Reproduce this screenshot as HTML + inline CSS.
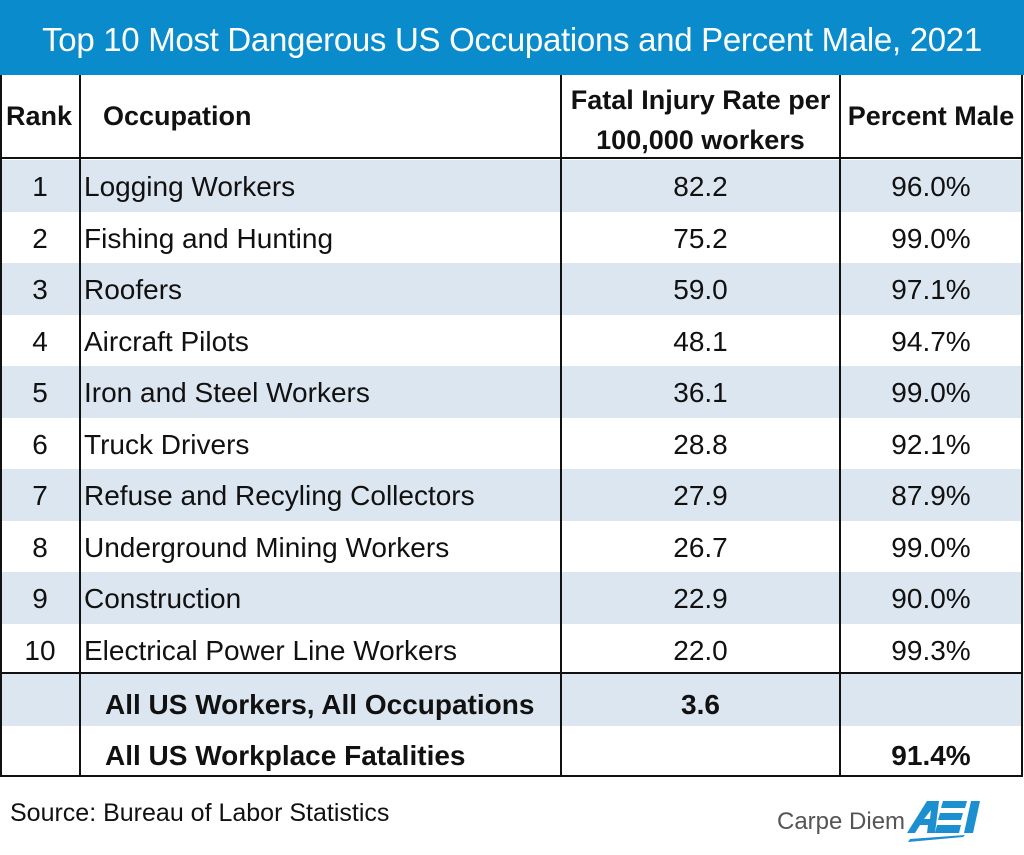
<!DOCTYPE html>
<html><head><meta charset="utf-8"><style>
*{margin:0;padding:0;box-sizing:border-box}
body{width:1024px;height:855px;background:#fff;font-family:"Liberation Sans",sans-serif;position:relative;overflow:hidden;color:#111}
.a{position:absolute}
.t{position:absolute;left:0;top:0;width:1024px;height:75px;background:#0a8ccc;color:#fff;font-size:33px;text-align:center;line-height:80px;letter-spacing:-0.3px}
.row{position:absolute;left:0;width:1022px;height:51.5px;font-size:28px;line-height:54px}
.b{background:#dce6f0}
.c{position:absolute;top:0;height:100%;white-space:nowrap}
.r{left:0;width:80px;text-align:center}
.o{left:84px}
.f{left:561px;width:279px;text-align:center}
.p{left:840px;width:182px;text-align:center}
.hl{position:absolute;left:0;width:1022px;height:2px;background:#111}
.vl{position:absolute;width:2px;background:#111}
.bold{font-weight:bold}
</style></head><body>
<div class="t">Top 10 Most Dangerous US Occupations and Percent Male, 2021</div>
<div class="a bold" style="left:6px;top:101px;font-size:27px">Rank</div>
<div class="a bold" style="left:103px;top:101px;font-size:27px">Occupation</div>
<div class="a bold" style="left:561px;top:80px;width:279px;text-align:center;font-size:27px;line-height:40px;white-space:nowrap">Fatal Injury Rate per<br>100,000 workers</div>
<div class="a bold" style="left:840px;top:101px;width:182px;text-align:center;font-size:27px;white-space:nowrap">Percent Male</div>

<div class="row b" style="top:160px"><div class="c r">1</div><div class="c o">Logging Workers</div><div class="c f">82.2</div><div class="c p">96.0%</div></div>
<div class="row" style="top:211.5px"><div class="c r">2</div><div class="c o">Fishing and Hunting</div><div class="c f">75.2</div><div class="c p">99.0%</div></div>
<div class="row b" style="top:263px"><div class="c r">3</div><div class="c o">Roofers</div><div class="c f">59.0</div><div class="c p">97.1%</div></div>
<div class="row" style="top:314.5px"><div class="c r">4</div><div class="c o">Aircraft Pilots</div><div class="c f">48.1</div><div class="c p">94.7%</div></div>
<div class="row b" style="top:366px"><div class="c r">5</div><div class="c o">Iron and Steel Workers</div><div class="c f">36.1</div><div class="c p">99.0%</div></div>
<div class="row" style="top:417.5px"><div class="c r">6</div><div class="c o">Truck Drivers</div><div class="c f">28.8</div><div class="c p">92.1%</div></div>
<div class="row b" style="top:469px"><div class="c r">7</div><div class="c o">Refuse and Recyling Collectors</div><div class="c f">27.9</div><div class="c p">87.9%</div></div>
<div class="row" style="top:520.5px"><div class="c r">8</div><div class="c o">Underground Mining Workers</div><div class="c f">26.7</div><div class="c p">99.0%</div></div>
<div class="row b" style="top:572px"><div class="c r">9</div><div class="c o">Construction</div><div class="c f">22.9</div><div class="c p">90.0%</div></div>
<div class="row" style="top:623.5px"><div class="c r">10</div><div class="c o">Electrical Power Line Workers</div><div class="c f">22.0</div><div class="c p">99.3%</div></div>
<div class="row b bold" style="top:674px;height:52px;line-height:62px"><div class="c o" style="left:105px">All US Workers, All Occupations</div><div class="c f">3.6</div></div>
<div class="row bold" style="top:726px;height:50px;line-height:60px"><div class="c o" style="left:105px">All US Workplace Fatalities</div><div class="c p">91.4%</div></div>

<div class="hl" style="top:157px"></div>
<div class="hl" style="top:672px"></div>
<div class="hl" style="top:775px"></div>
<div class="vl" style="left:79px;top:75px;height:702px"></div>
<div class="vl" style="left:560px;top:75px;height:702px"></div>
<div class="vl" style="left:839px;top:75px;height:702px"></div>
<div class="vl" style="left:1021px;top:75px;height:702px"></div>
<div class="vl" style="left:0;top:75px;height:702px"></div>

<div class="a" style="left:10px;top:799px;font-size:25px">Source: Bureau of Labor Statistics</div>
<div class="a" style="left:777px;top:808px;font-size:24px;color:#555">Carpe Diem</div>
<svg class="a" style="left:905px;top:797px" width="90" height="45" viewBox="0 0 90 45">
<g fill="#1b8fd0"><polygon points="2,36 22,4 34,4 30,36 22,36 23,28 15,28 10,36"/>
<polygon points="38,4 62,4 60,11 36,11"/><polygon points="35,16 58,16 56,23 33,23"/><polygon points="32,28 56,28 54,36 30,36"/>
<polygon points="66,4 75,4 68,36 59,36"/><polygon points="5,42 60,38 58,40 3,45"/></g>
<polygon points="19,22 25,22 26,13" fill="#fff"/></svg>
</body></html>
